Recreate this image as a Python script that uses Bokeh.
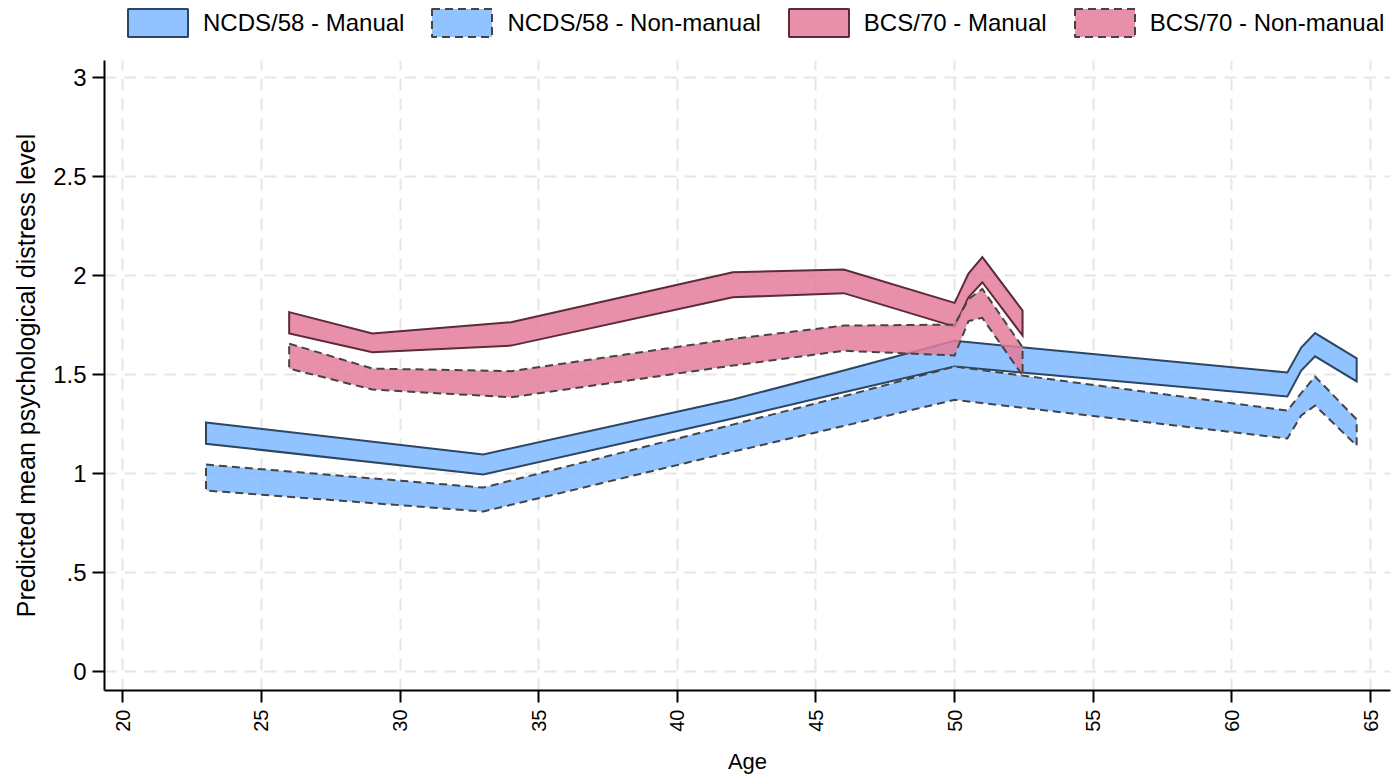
import math
from bokeh.plotting import figure
from bokeh.layouts import column
from bokeh.models import Range1d, Legend, LegendItem, FixedTicker
from bokeh.embed import file_html
from bokeh.resources import INLINE

# ---- data ----
ncds_age = [23, 33, 42, 46, 50, 62, 62.5, 63, 64.5]
ncds_manual_hi = [1.258, 1.096, 1.374, 1.52, 1.670, 1.51, 1.636, 1.709, 1.582]
ncds_manual_lo = [1.150, 0.995, 1.278, 1.41, 1.540, 1.389, 1.520, 1.592, 1.465]
ncds_nonman_hi = [1.045, 0.929, 1.247, 1.39, 1.540, 1.318, 1.406, 1.490, 1.273]
ncds_nonman_lo = [0.914, 0.808, 1.110, 1.24, 1.372, 1.177, 1.293, 1.343, 1.141]

bcs_age = [26, 29, 34, 42, 46, 50, 50.5, 51, 52.45]
bcs_manual_hi = [1.815, 1.707, 1.764, 2.017, 2.030, 1.862, 2.010, 2.093, 1.823]
bcs_manual_lo = [1.707, 1.613, 1.646, 1.890, 1.911, 1.742, 1.890, 1.966, 1.697]
bcs_nonman_hi = [1.656, 1.530, 1.517, 1.680, 1.747, 1.752, 1.880, 1.932, 1.638]
bcs_nonman_lo = [1.530, 1.424, 1.385, 1.545, 1.620, 1.596, 1.770, 1.786, 1.495]

labels = ["NCDS/58 - Manual", "NCDS/58 - Non-manual", "BCS/70 - Manual", "BCS/70 - Non-manual"]
x_ticks = [20, 25, 30, 35, 40, 45, 50, 55, 60, 65]
y_ticks = [0, 0.5, 1, 1.5, 2, 2.5, 3]
y_tick_labels = ["0", ".5", "1", "1.5", "2", "2.5", "3"]

FONT = "Liberation Sans"
BLUE = "#7db9ff"
PINK = "#e47c9b"
styles = [
    (BLUE, "#2c4663", "solid"),
    (BLUE, "#444444", "8 5"),
    (PINK, "#5b2a3c", "solid"),
    (PINK, "#444444", "8 5"),
]
bands = [
    (ncds_age, ncds_manual_hi, ncds_manual_lo),
    (ncds_age, ncds_nonman_hi, ncds_nonman_lo),
    (bcs_age, bcs_manual_hi, bcs_manual_lo),
    (bcs_age, bcs_nonman_hi, bcs_nonman_lo),
]

W = 1392

# ---------- main plot ----------
p = figure(width=W, height=720, output_backend="svg", toolbar_location=None,
           x_range=Range1d(19.34, 65.72), y_range=Range1d(-0.096, 3.086),
           min_border_left=104, min_border_right=2, min_border_top=0, min_border_bottom=90)
p.outline_line_color = None
p.background_fill_color = "white"
p.border_fill_color = "white"

for (x, hi, lo), (fill, line, dash) in zip(bands, styles):
    xs = list(x) + list(x)[::-1]
    ys = list(hi) + list(lo)[::-1]
    p.patch(xs, ys, fill_color=fill, fill_alpha=0.85, line_color=line,
            line_width=2, line_dash=dash, line_join="miter")

for g in (p.xgrid, p.ygrid):
    g.grid_line_color = "#e6e6e6"
    g.grid_line_width = 2
    g.grid_line_dash = "12 8"
p.xgrid.ticker = FixedTicker(ticks=x_ticks)
p.ygrid.ticker = FixedTicker(ticks=y_ticks)

for ax in (p.xaxis[0], p.yaxis[0]):
    ax.axis_line_color = "black"
    ax.axis_line_width = 2
    ax.major_tick_line_color = "black"
    ax.major_tick_line_width = 2
    ax.major_tick_out = 12
    ax.major_tick_in = 0
    ax.minor_tick_line_color = None
    ax.major_label_text_font = FONT
    ax.major_label_text_color = "black"
    ax.axis_label_text_font = FONT
    ax.axis_label_text_font_style = "normal"
    ax.axis_label_text_color = "black"

p.xaxis.ticker = FixedTicker(ticks=x_ticks)
p.xaxis.major_label_orientation = math.pi / 2
p.xaxis.major_label_text_font_size = "20px"
p.xaxis.axis_label = "Age"
p.xaxis.axis_label_text_font_size = "22px"
p.xaxis.axis_label_standoff = 14
p.xaxis.major_label_standoff = 7

p.yaxis.ticker = FixedTicker(ticks=y_ticks)
p.yaxis.major_label_overrides = {t: s for t, s in zip(y_ticks, y_tick_labels)}
p.yaxis.major_label_text_font_size = "24px"
p.yaxis.axis_label = "Predicted mean psychological distress level"
p.yaxis.axis_label_text_font_size = "25px"
p.yaxis.axis_label_standoff = 10
p.yaxis.major_label_standoff = 6

# ---------- legend strip (swatch proxies carry no visible data) ----------
lg = figure(width=W, height=60, output_backend="svg", toolbar_location=None,
            x_range=Range1d(0, 1), y_range=Range1d(0, 1),
            x_axis_type=None, y_axis_type=None, min_border=0)
lg.outline_line_color = None
lg.grid.visible = False
items = []
nan = float("nan")
for lab, (fill, line, dash) in zip(labels, styles):
    r = lg.patch([nan, nan, nan], [nan, nan, nan], fill_color=fill, fill_alpha=0.85,
                 line_color=line, line_width=2, line_dash=dash)
    items.append(LegendItem(label=lab, renderers=[r]))
legend = Legend(items=items, orientation="horizontal", location=(16, 20),
                glyph_width=75, glyph_height=35, label_standoff=8, spacing=20,
                label_text_font=FONT, label_text_font_size="24px", label_text_color="#000000",
                label_height=35, border_line_color=None, background_fill_alpha=0,
                padding=0, margin=0)
lg.add_layout(legend, "center")

layout = column(lg, p, spacing=0)
open("out.html", "w").write(file_html(layout, INLINE))
